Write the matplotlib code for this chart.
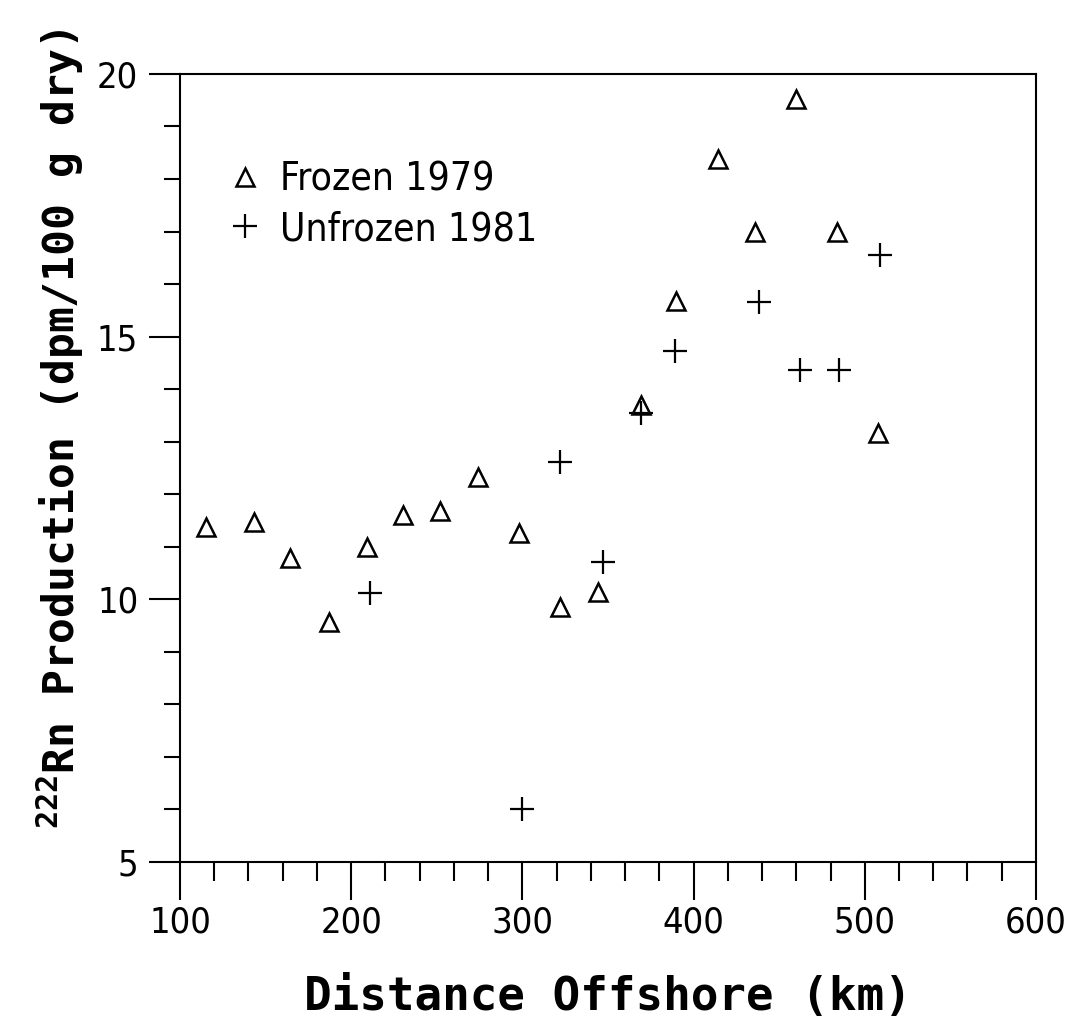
import matplotlib
matplotlib.use("Agg")
import matplotlib.pyplot as plt
from matplotlib.ticker import MultipleLocator

# Frozen 1979 (triangles)
frozen_x = [115, 143, 164, 187, 209, 230, 252, 274, 298, 322, 344, 369, 390, 414, 436, 460, 484, 508]
frozen_y = [11.38, 11.47, 10.79, 9.57, 11.0, 11.60, 11.69, 12.32, 11.27, 9.85, 10.14, 13.7,
            15.67, 18.38, 16.99, 19.52, 17.0, 13.17]

# Unfrozen 1981 (plus signs)
unfrozen_x = [211, 300, 322, 347, 369, 389, 438, 462, 485, 509]
unfrozen_y = [10.12, 6.0, 12.61, 10.71, 13.55, 14.72, 15.65, 14.36, 14.36, 16.56]

x_ticks = [100, 200, 300, 400, 500, 600]
y_ticks = [5, 10, 15, 20]

mono = ['DejaVu Sans Mono']

plt.rcParams['mathtext.fontset'] = 'custom'
plt.rcParams['mathtext.rm'] = 'DejaVu Sans Mono'

fig = plt.figure(figsize=(10.69, 10.27), dpi=100)
ax = fig.add_axes([0.1684, 0.1607, 0.8007, 0.7673])

ax.plot(frozen_x, frozen_y, linestyle='none', marker='^', markersize=13,
        markerfacecolor='none', markeredgecolor='black', markeredgewidth=1.8,
        label='Frozen 1979')
ax.plot(unfrozen_x, unfrozen_y, linestyle='none', marker='+', markersize=17,
        color='black', markeredgewidth=1.6, label='Unfrozen 1981')

ax.set_xlim(100, 600)
ax.set_ylim(5, 20)
ax.set_xticks(x_ticks)
ax.set_yticks(y_ticks)
ax.xaxis.set_minor_locator(MultipleLocator(20))
ax.yaxis.set_minor_locator(MultipleLocator(1))

ax.tick_params(axis='x', which='major', direction='out', length=27, width=1.5, pad=4)
ax.tick_params(axis='x', which='minor', direction='out', length=14, width=1.5)
ax.tick_params(axis='y', which='major', direction='out', length=22, width=1.5, pad=8)
ax.tick_params(axis='y', which='minor', direction='out', length=11.5, width=1.5)
for lab in ax.get_xticklabels() + ax.get_yticklabels():
    lab.set_family('DejaVu Sans')
    lab.set_stretch('condensed')
    lab.set_fontsize(26)

for sp in ax.spines.values():
    sp.set_linewidth(1.5)

ax.set_xlabel('Distance Offshore (km)', family=mono, fontsize=33, fontweight='bold',
              labelpad=26)
ax.set_ylabel(r'$^{\mathdefault{222}}$Rn Production (dpm/100 g dry)', family=mono,
              fontsize=31, fontweight='bold')
ax.yaxis.set_label_coords(-0.11, 0.55)

leg = ax.legend(loc='upper left', bbox_to_anchor=(0.04, 0.91), frameon=False,
                prop={'family': 'DejaVu Sans', 'stretch': 'condensed', 'size': 28},
                handlelength=0.8, handletextpad=0.5, labelspacing=0.3, borderaxespad=0)

fig.savefig('out.png', dpi=100, facecolor='white')
